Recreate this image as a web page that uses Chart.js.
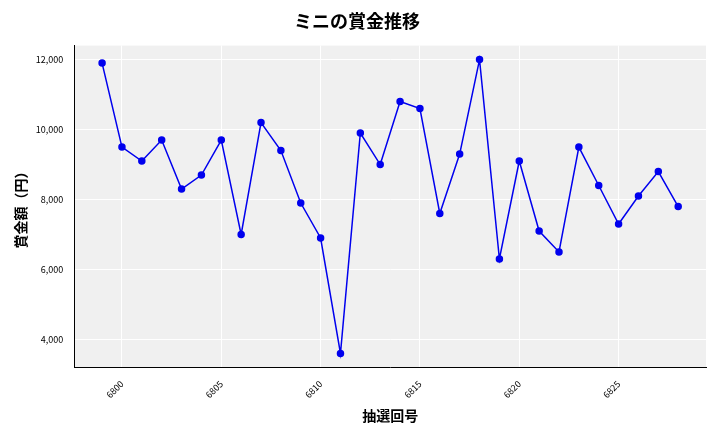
<!DOCTYPE html>
<html>
<head>
<meta charset="utf-8">
<script src="https://cdn.jsdelivr.net/npm/chart.js@4"></script>
<style>
  body { margin: 0; background: #fff; }
</style>
</head>
<body>
<canvas id="chart" width="720" height="432"></canvas>
<script>
const draws = [6799,6800,6801,6802,6803,6804,6805,6806,6807,6808,6809,6810,6811,6812,6813,6814,6815,6816,6817,6818,6819,6820,6821,6822,6823,6824,6825,6826,6827,6828];
const prizes = [11900,9500,9100,9700,8300,8700,9700,7000,10200,9400,7900,6900,3600,9900,9000,10800,10600,7600,9300,12000,6300,9100,7100,6500,9500,8400,7300,8100,8800,7800];
const yTicks = [4000,6000,8000,10000,12000];

const font = "'Noto Sans CJK JP', 'Noto Sans', sans-serif";

const bgPlugin = {
  id: 'plotBg',
  beforeDraw(chart) {
    const a = chart.chartArea, c = chart.ctx;
    c.save();
    c.fillStyle = '#f0f0f0';
    c.fillRect(a.left, a.top, a.right - a.left, a.bottom - a.top);
    c.restore();
  }
};

new Chart(document.getElementById('chart'), {
  type: 'line',
  data: {
    datasets: [{
      data: draws.map((d, i) => ({ x: d, y: prizes[i] })),
      borderColor: '#0000ee',
      backgroundColor: '#0000ee',
      borderWidth: 1.5,
      pointRadius: 3,
      tension: 0
    }]
  },
  options: {
    responsive: false,
    devicePixelRatio: 1,
    animation: false,
    layout: { padding: { left: 8, right: 14, top: 4, bottom: 4 } },
    plugins: {
      legend: { display: false },
      title: {
        display: true,
        text: 'ミニの賞金推移',
        font: { family: font, size: 18, weight: 'bold' },
        color: '#000',
        padding: { top: 6, bottom: 14 }
      }
    },
    scales: {
      x: {
        type: 'linear',
        min: 6797.6,
        max: 6829.4,
        afterBuildTicks(axis) { axis.ticks = [6800,6805,6810,6815,6820,6825].map(v => ({ value: v })); },
        grid: { color: '#ffffff', lineWidth: 1 },
        border: { display: true, color: '#000' },
        ticks: { maxRotation: 45, minRotation: 45, font: { family: font, size: 9 }, color: '#000', callback: v => String(v) },
        title: { display: true, text: '抽選回号', font: { family: font, size: 14, weight: 'bold' }, color: '#000' }
      },
      y: {
        min: 3200,
        max: 12400,
        afterBuildTicks(axis) { axis.ticks = yTicks.map(v => ({ value: v })); },
        grid: { color: '#ffffff', lineWidth: 1 },
        border: { display: true, color: '#000' },
        ticks: { font: { family: font, size: 9 }, color: '#000', callback: v => v.toLocaleString('en-US') },
        title: { display: true, text: '賞金額（円）', font: { family: font, size: 14, weight: 'bold' }, color: '#000' }
      }
    }
  },
  plugins: [bgPlugin]
});
</script>
</body>
</html>
